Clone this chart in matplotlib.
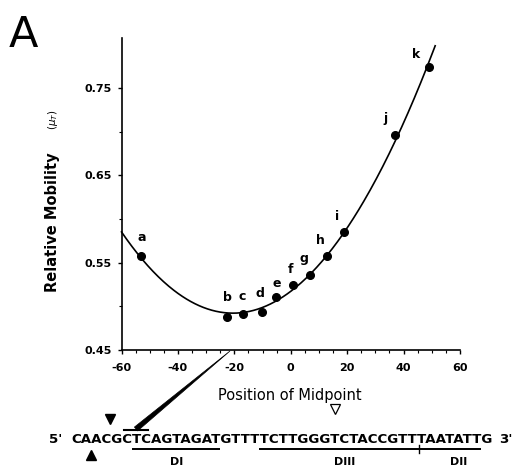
import matplotlib.pyplot as plt
import numpy as np
from matplotlib.patches import Polygon

plt.rcParams["axes.unicode_minus"] = False

# data
labels = ["a", "b", "c", "d", "e", "f", "g", "h", "i", "j", "k"]
midpoint = [-53.1, -22.7, -16.8, -10.1, -5.1, 0.9, 6.8, 13.0, 18.9, 37.0, 49.0]
mobility = [0.558, 0.488, 0.491, 0.4935, 0.511, 0.524, 0.536, 0.557, 0.585, 0.696, 0.774]
xticks = [-60, -40, -20, 0, 20, 40, 60]
yticks = [0.45, 0.55, 0.65, 0.75]

sequence = "CAACGCTCAGTAGATGTTTTCTTGGGTCTACCGTTTAATATTG"
region_names = ["DI", "DIII", "DII"]
region_start = [6, 19, 35]
region_end = [15, 35, 42]
region_label_at = [10, 27, 39]

# label offsets in pixels, (dx, dy) with y down (style only)
label_off_px = [(1, -18), (1, -19), (-1, -18), (-2, -18), (0, -13), (-3, -16),
                (-6, -16), (-7, -16), (-7, -16), (-10, -17), (-13, -12)]


def main():
    fig = plt.figure(figsize=(5.23, 4.73), dpi=100)
    ax = fig.add_axes([121.5 / 523, 1 - 350 / 473, 338.5 / 523, 312 / 473])

    # quadratic fit through the points
    coef = np.polyfit(midpoint, mobility, 2)
    xs = np.linspace(-60, 51.2, 300)
    ax.plot(xs, np.polyval(coef, xs), color="black", lw=1.2, clip_on=False)
    ax.plot(midpoint, mobility, "o", color="black", ms=5.5)
    for lab, x, y, (dx, dy) in zip(labels, midpoint, mobility, label_off_px):
        ax.annotate(lab, (x, y), xytext=(dx * 0.72, -dy * 0.72), textcoords="offset points",
                    ha="center", va="center", fontsize=9, fontweight="bold")

    ax.set_xlim(-60, 60)
    ax.set_ylim(0.45, 0.807)
    ax.set_xticks(xticks)
    ax.set_xticks(np.arange(-60, 61, 5), minor=True)
    ax.set_yticks(yticks)
    ax.set_yticks([0.50, 0.60, 0.70], minor=True)
    ax.set_yticklabels([f"{v:.2f}" for v in yticks])
    for t in ax.get_xticklabels() + ax.get_yticklabels():
        t.set_fontweight("bold")
        t.set_fontsize(8)
    ax.tick_params(axis="both", which="major", length=3, width=1, pad=4)
    ax.tick_params(axis="both", which="minor", length=2, width=0.8)
    ax.tick_params(axis="x", pad=6)
    for s in ["top", "right"]:
        ax.spines[s].set_visible(False)
    for s in ["left", "bottom"]:
        ax.spines[s].set_linewidth(1.2)

    # overlay in pixel coordinates for annotations
    ov = fig.add_axes([0, 0, 1, 1], zorder=-1)
    ov.set_xlim(0, 523)
    ov.set_ylim(473, 0)
    ov.axis("off")

    ov.text(9, 47, "A", fontsize=31, va="baseline", ha="left")
    ov.text(290, 395, "Position of Midpoint", fontsize=10.5, ha="center", va="center")
    ov.text(53, 222, "Relative Mobility", fontsize=10.5, fontweight="bold",
            rotation=90, ha="center", va="center")
    ov.text(53, 120, r"($\mu_T$)", fontsize=7.5, rotation=90, ha="center", va="center")

    # sequence, fitted to its width in the reference
    renderer = fig.canvas.get_renderer()
    x0, x1, base = 71, 494, 443

    def width(s, fs):
        t = ov.text(0, 0, s, fontsize=fs, fontweight="bold")
        w = t.get_window_extent(renderer).width
        t.remove()
        return w

    fs = 10 * (x1 - x0) / width(sequence, 10)
    ov.text(x0, base, sequence, fontsize=fs, fontweight="bold", ha="left", va="baseline")
    ov.text(49, base, "5'", fontsize=fs, fontweight="bold", ha="left", va="baseline")
    ov.text(499, base, "3'", fontsize=fs, fontweight="bold", ha="left", va="baseline")

    def pos(i):
        return x0 + (width(sequence[:i], fs) if i > 0 else 0)

    def center(i):
        return (pos(i) + pos(i + 1)) / 2

    uy = 449
    for name, i0, i1, il in zip(region_names, region_start, region_end, region_label_at):
        ov.plot([pos(i0), pos(i1)], [uy, uy], color="black", lw=1.4, solid_capstyle="butt")
        ov.text(center(il), 462, name, fontsize=8, fontweight="bold",
                ha="center", va="center")
    tx = pos(35) + 2
    ov.plot([tx, tx], [445, 453], color="black", lw=1)

    ov.plot(pos(4) - 1, 419, marker="v", color="black", ms=7)
    ov.plot(pos(2), 455, marker="^", color="black", ms=7)
    ov.plot(center(26), 409, marker="v", mfc="white", mec="black", mew=0.9, ms=7)

    # wedge from sequence to the axis
    top = np.array([230, 351])
    bot = np.array([136, 429])
    d = bot - top
    n = np.array([-d[1], d[0]]) / np.hypot(*d)
    ov.add_patch(Polygon([top, bot + n * 2.5, bot - n * 2.5], closed=True,
                         color="black", lw=0.5))
    ov.plot([124, 148], [430, 430], color="black", lw=1.5)

    fig.savefig("out.png", dpi=100)


if __name__ == "__main__":
    main()
